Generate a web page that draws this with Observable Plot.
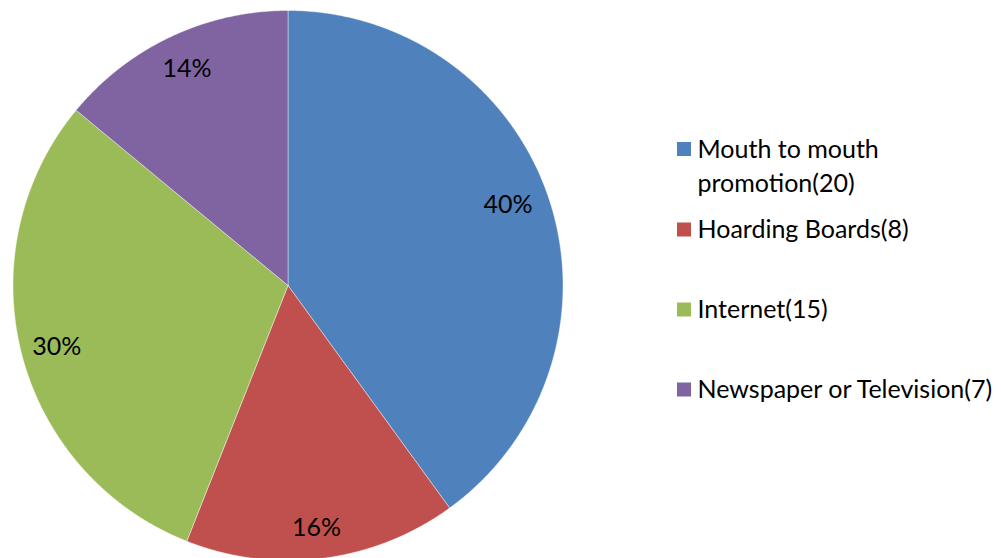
<!DOCTYPE html>
<html><head><meta charset="utf-8">
<script src="https://cdn.jsdelivr.net/npm/d3@7"></script>
<script src="https://cdn.jsdelivr.net/npm/@observablehq/plot@0.6"></script>
<style>body{margin:0;background:#fff} svg{display:block}</style>
</head><body><div id="chart"></div>
<script>
const categories = ["Mouth to mouth promotion", "Hoarding Boards", "Internet", "Newspaper or Television"];
const counts = [20, 8, 15, 7];
const legendLabels = ["Mouth to mouth\npromotion(20)", "Hoarding Boards(8)", "Internet(15)", "Newspaper or Television(7)"];
const colors = ["#4F81BD", "#C0504D", "#9BBB59", "#8064A2"];

// layout (pixels)
const W = 1001, H = 558, CX = 287.5, CY = 285, R = 275;
const FONT = "Lato, 'Open Sans', sans-serif", FS = 25, DY = -2;
const legendSquareX = 683.5, legendTextX = 697, legendFirstLineY = [148.5, 229, 309, 389], lineH = 34;
const labelRadius = [0.85, 0.895, 0.872, 0.862], labelAngleShift = [-0.03, 0.01, -0.015, 0];
const toX = px => (px - CX) / R, toY = py => (CY - py) / R;

const total = d3.sum(counts);
const arcs = d3.pie().sort(null).value(d => d)(counts);
const slicePts = [];
arcs.forEach((s, i) => {
  const key = categories[i];
  slicePts.push({key, x: 0, y: 0});
  const n = Math.max(2, Math.ceil((s.endAngle - s.startAngle) / 0.004));
  for (let k = 0; k <= n; k++) {
    const a = s.startAngle + (s.endAngle - s.startAngle) * k / n;
    slicePts.push({key, x: Math.sin(a), y: Math.cos(a)});
  }
  slicePts.push({key, x: 0, y: 0});
});
const pctLabels = arcs.map((s, i) => {
  const m = (s.startAngle + s.endAngle) / 2 + labelAngleShift[i];
  return {x: labelRadius[i] * Math.sin(m), y: labelRadius[i] * Math.cos(m), text: Math.round(counts[i] / total * 100) + "%"};
});
const legend = categories.map((c, i) => {
  const lines = legendLabels[i].split("\n").length;
  return {key: c, label: legendLabels[i], sx: toX(legendSquareX), tx: toX(legendTextX),
          sy: toY(legendFirstLineY[i]), ty: toY(legendFirstLineY[i] + (lines - 1) * lineH / 2)};
});

const chart = Plot.plot({
  width: W, height: H, margin: 0,
  style: {fontFamily: FONT, background: "#fff"},
  x: {domain: [toX(0), toX(W)], axis: null},
  y: {domain: [toY(H), toY(0)], axis: null},
  color: {domain: categories, range: colors},
  marks: [
    Plot.line(slicePts, {x: "x", y: "y", z: "key", fill: "key", stroke: "#ffffff", strokeWidth: 0.6, strokeOpacity: 0.7, curve: "linear"}),
    Plot.text(pctLabels, {x: "x", y: "y", text: "text", fontSize: FS, fontFamily: FONT, fill: "#000", dy: DY}),
    Plot.dot(legend, {x: "sx", y: "sy", symbol: "square", r: 14 / Math.sqrt(Math.PI), fill: "key", stroke: null}),
    Plot.text(legend, {x: "tx", y: "ty", text: "label", textAnchor: "start", lineHeight: lineH / FS, fontSize: FS, fontFamily: FONT, fill: "#000", dy: DY})
  ]
});
document.getElementById("chart").appendChild(chart);
</script></body></html>
